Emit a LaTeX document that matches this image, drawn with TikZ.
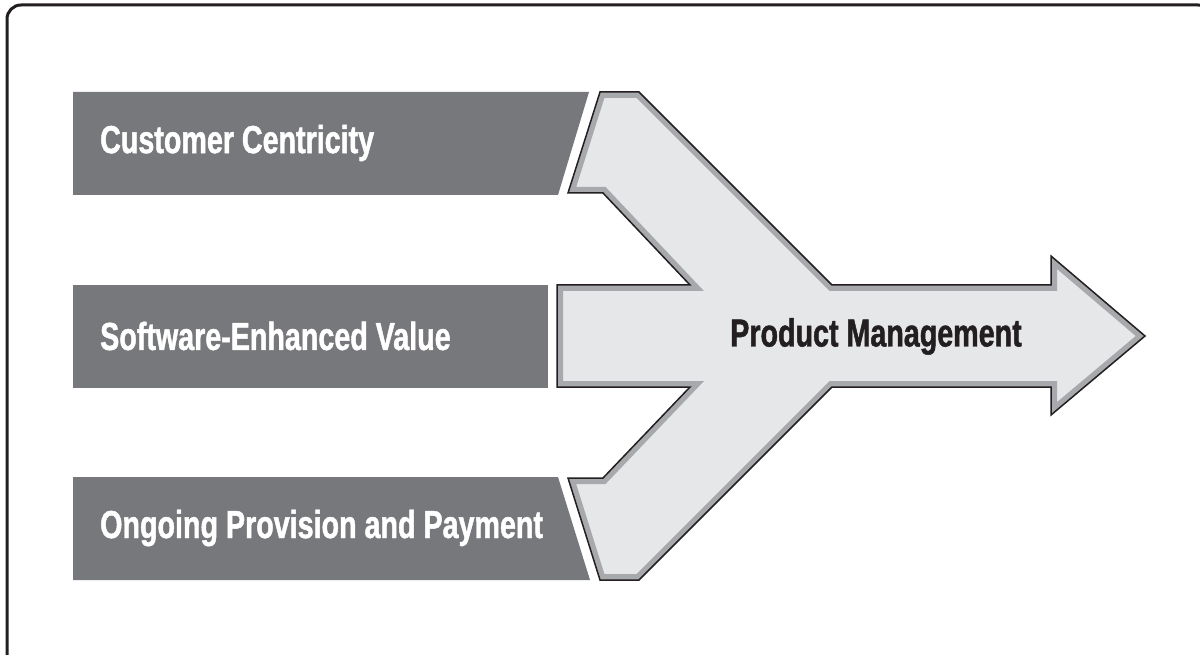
\documentclass[tikz,border=0pt]{standalone}
\usepackage{fontspec}
\newfontfamily\cond{Liberation Sans}[FakeStretch=0.735,FakeBold=1.2]
\definecolor{boxgray}{HTML}{77787B}
\definecolor{arrowfill}{HTML}{E6E7E8}
\definecolor{arrowband}{HTML}{A7A9AC}
\definecolor{framecol}{HTML}{231F20}
\tikzset{
  lbl/.style={anchor=west, inner sep=0pt, text=white, font=\cond\bfseries\fontsize{39}{44}\selectfont},
  mainlbl/.style={inner sep=0pt, text=framecol, font=\cond\bfseries\fontsize{39}{44}\selectfont},
  darkbox/.style={fill=boxgray, draw=none},
}
\begin{document}
\begin{tikzpicture}[x=1pt,y=-1pt]
\useasboundingbox (0,0) rectangle (1200,655);
\begin{scope}
\clip (0,0) rectangle (1200,655);
\draw[framecol, line width=3pt, rounded corners=14pt] (7,5) rectangle (1212,668);
\end{scope}
% dark boxes
\path[darkbox] (73,92) -- (589,92) -- (558,195) -- (73,195) -- cycle;
\path[darkbox] (73,285) -- (548,285) -- (548,388) -- (73,388) -- cycle;
\path[darkbox] (73,477) -- (558,477) -- (590,580) -- (73,580) -- cycle;
% arrow shape
\def\arrowpath{(600,92) -- (639,92) -- (832,285) -- (1051,285) -- (1051,256) -- (1145,336) -- (1051,415) -- (1051,387) -- (832,387) -- (639,580) -- (600,580) -- (568,478) -- (603,478) -- (690,387) -- (557,387) -- (557,285) -- (690,285) -- (603,193) -- (568,193) -- cycle}
\fill[arrowfill] \arrowpath;
\begin{scope}
\clip \arrowpath;
\draw[arrowband, line width=12pt, line join=miter] \arrowpath;
\end{scope}
\draw[framecol, line width=1.5pt, line join=miter] \arrowpath;
% labels
\node[lbl] (cc) at (100,143) {Customer Centricity};
\node[lbl] (sev) at (100,336) {Software-Enhanced Value};
\node[lbl] (opp) at (100,528) {Ongoing Provision and Payment};
\node[mainlbl] (pm) at (876,336.5) {Product Management};
\end{tikzpicture}
\end{document}
